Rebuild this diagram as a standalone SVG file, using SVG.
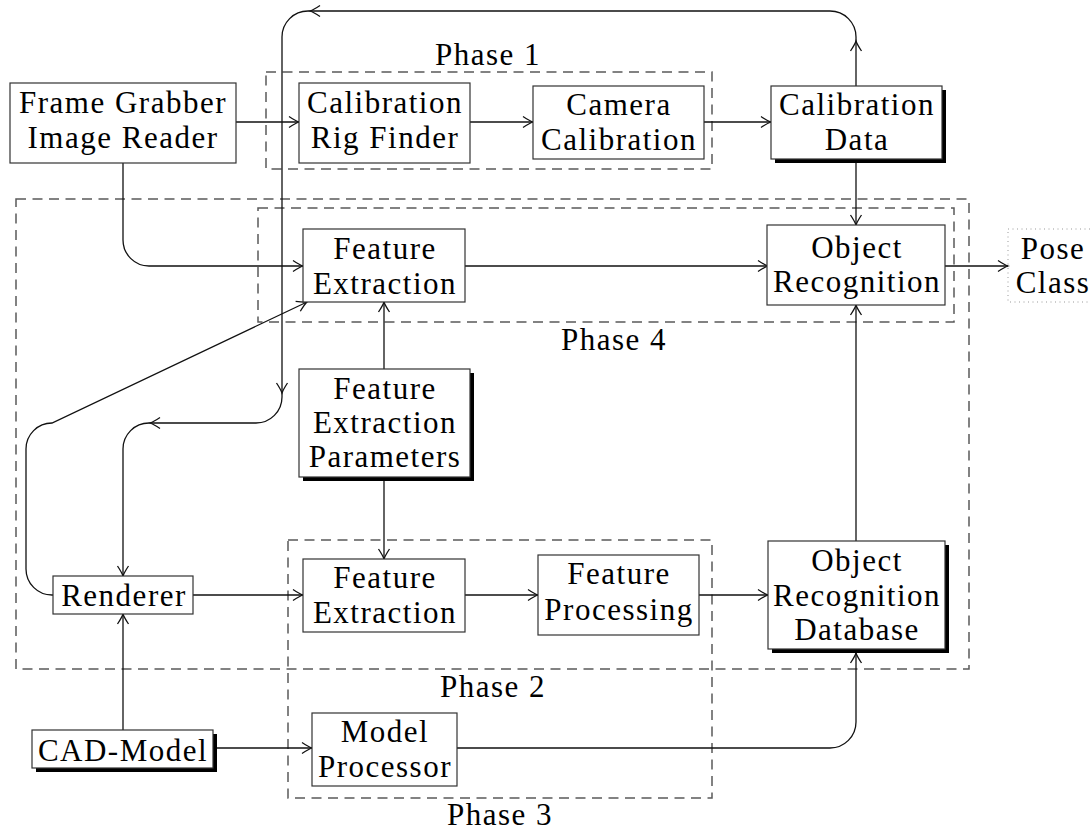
<svg xmlns="http://www.w3.org/2000/svg" width="1091" height="833" viewBox="0 0 1091 833">
<style>
text{font-family:"Liberation Serif","Times New Roman",serif;font-size:31px;letter-spacing:1.5px;fill:#000;text-anchor:middle}
.box{fill:#fff;stroke:#333;stroke-width:1.2}
.shadow{fill:#000}
.phase{fill:none;stroke:#5a5a5a;stroke-width:1.5;stroke-dasharray:10 6.5}
.dot{fill:none;stroke:#999;stroke-width:1;stroke-dasharray:1 3.5}
.c{fill:none;stroke:#111;stroke-width:1.3}
</style>
<defs>
<marker id="ar" viewBox="-11 -7 13 14" refX="0" refY="0" markerWidth="13" markerHeight="14" markerUnits="userSpaceOnUse" orient="auto">
<path d="M-10,-5.5 Q-3.5,-1.2 0,0 Q-3.5,1.2 -10,5.5" fill="none" stroke="#111" stroke-width="1.3"/>
</marker>
</defs>
<rect width="1091" height="833" fill="#fff"/>
<g id="phases">
<rect class="phase" x="266" y="72" width="446" height="97"/>
<rect class="phase" x="16" y="199" width="953" height="470"/>
<rect class="phase" x="258" y="208" width="696" height="114"/>
<rect class="phase" x="288" y="540" width="424" height="258"/>
<text x="488" y="65">Phase 1</text>
<text x="614" y="350">Phase 4</text>
<text x="493" y="697">Phase 2</text>
<text x="500" y="825">Phase 3</text>
</g>
<g id="connectors">
<path class="c" d="M236,122 H299" marker-end="url(#ar)"/>
<path class="c" d="M470,122 H533" marker-end="url(#ar)"/>
<path class="c" d="M704,122 H771" marker-end="url(#ar)"/>
<path class="c" d="M856,86 V41" marker-end="url(#ar)"/>
<path class="c" d="M856,41 V37 A26,26 0 0 0 830,11 H310" marker-end="url(#ar)"/>
<path class="c" d="M310,11 H308 A26,26 0 0 0 282,37 V393" marker-end="url(#ar)"/>
<path class="c" d="M282,393 V397 A26,26 0 0 1 256,423 H150" marker-end="url(#ar)"/>
<path class="c" d="M150,423 H149 A26,26 0 0 0 123,449 V576" marker-end="url(#ar)"/>
<path class="c" d="M123,163 V240 A26,26 0 0 0 149,266 H303" marker-end="url(#ar)"/>
<path class="c" d="M856,163 V225" marker-end="url(#ar)"/>
<path class="c" d="M465,266 H768" marker-end="url(#ar)"/>
<path class="c" d="M945,266 H1008" marker-end="url(#ar)"/>
<path class="c" d="M384,369 V302" marker-end="url(#ar)"/>
<path class="c" d="M384,481 V559" marker-end="url(#ar)"/>
<path class="c" d="M193,595 H303" marker-end="url(#ar)"/>
<path class="c" d="M465,595 H538" marker-end="url(#ar)"/>
<path class="c" d="M699,595 H768" marker-end="url(#ar)"/>
<path class="c" d="M856,541 V305" marker-end="url(#ar)"/>
<path class="c" d="M123,730 V614" marker-end="url(#ar)"/>
<path class="c" d="M217,748 H312" marker-end="url(#ar)"/>
<path class="c" d="M457,748 H830 A26,26 0 0 0 856,722 V653" marker-end="url(#ar)"/>
<path class="c" d="M53,595 H52 A26,26 0 0 1 26,569 V449 A26,26 0 0 1 52,423 L307,302" marker-end="url(#ar)"/>
</g>
<g id="frame-grabber">
<rect class="box" x="10" y="83" width="226" height="80"/>
<text x="123" y="113">Frame Grabber</text>
<text x="123" y="148">Image Reader</text>
</g>
<g id="rig-finder">
<rect class="box" x="299" y="83" width="171" height="80"/>
<text x="385" y="113">Calibration</text>
<text x="385" y="148">Rig Finder</text>
</g>
<g id="camera-calibration">
<rect class="box" x="533" y="86" width="171" height="73"/>
<text x="619" y="115">Camera</text>
<text x="619" y="150">Calibration</text>
</g>
<g id="calibration-data">
<rect class="shadow" x="775" y="90" width="171" height="73"/>
<rect class="box" x="771" y="86" width="171" height="73"/>
<text x="857" y="115">Calibration</text>
<text x="857" y="150">Data</text>
</g>
<g id="feature-extraction-4">
<rect class="box" x="303" y="229" width="162" height="73"/>
<text x="385" y="259">Feature</text>
<text x="385" y="294">Extraction</text>
</g>
<g id="object-recognition">
<rect class="box" x="767" y="225" width="178" height="80"/>
<text x="857" y="258">Object</text>
<text x="857" y="292">Recognition</text>
</g>
<g id="pose-class">
<rect class="dot" x="1008" y="229" width="100" height="73"/>
<text x="1053" y="259">Pose</text>
<text x="1053" y="293">Class</text>
</g>
<g id="feature-extraction-parameters">
<rect class="shadow" x="303" y="373" width="171" height="108"/>
<rect class="box" x="299" y="369" width="171" height="108"/>
<text x="385" y="399">Feature</text>
<text x="385" y="433">Extraction</text>
<text x="385" y="467">Parameters</text>
</g>
<g id="renderer">
<rect class="box" x="53" y="576" width="140" height="38"/>
<text x="124" y="606">Renderer</text>
</g>
<g id="feature-extraction-2">
<rect class="box" x="303" y="559" width="162" height="73"/>
<text x="385" y="588">Feature</text>
<text x="385" y="623">Extraction</text>
</g>
<g id="feature-processing">
<rect class="box" x="538" y="555" width="161" height="80"/>
<text x="619" y="584">Feature</text>
<text x="619" y="620">Processing</text>
</g>
<g id="object-recognition-database">
<rect class="shadow" x="772" y="545" width="177" height="108"/>
<rect class="box" x="768" y="541" width="177" height="108"/>
<text x="857" y="571">Object</text>
<text x="857" y="606">Recognition</text>
<text x="857" y="640">Database</text>
</g>
<g id="cad-model">
<rect class="shadow" x="36" y="734" width="181" height="38"/>
<rect class="box" x="32" y="730" width="181" height="38"/>
<text x="123" y="761">CAD-Model</text>
</g>
<g id="model-processor">
<rect class="box" x="312" y="713" width="145" height="73"/>
<text x="385" y="742">Model</text>
<text x="385" y="777">Processor</text>
</g>
</svg>
